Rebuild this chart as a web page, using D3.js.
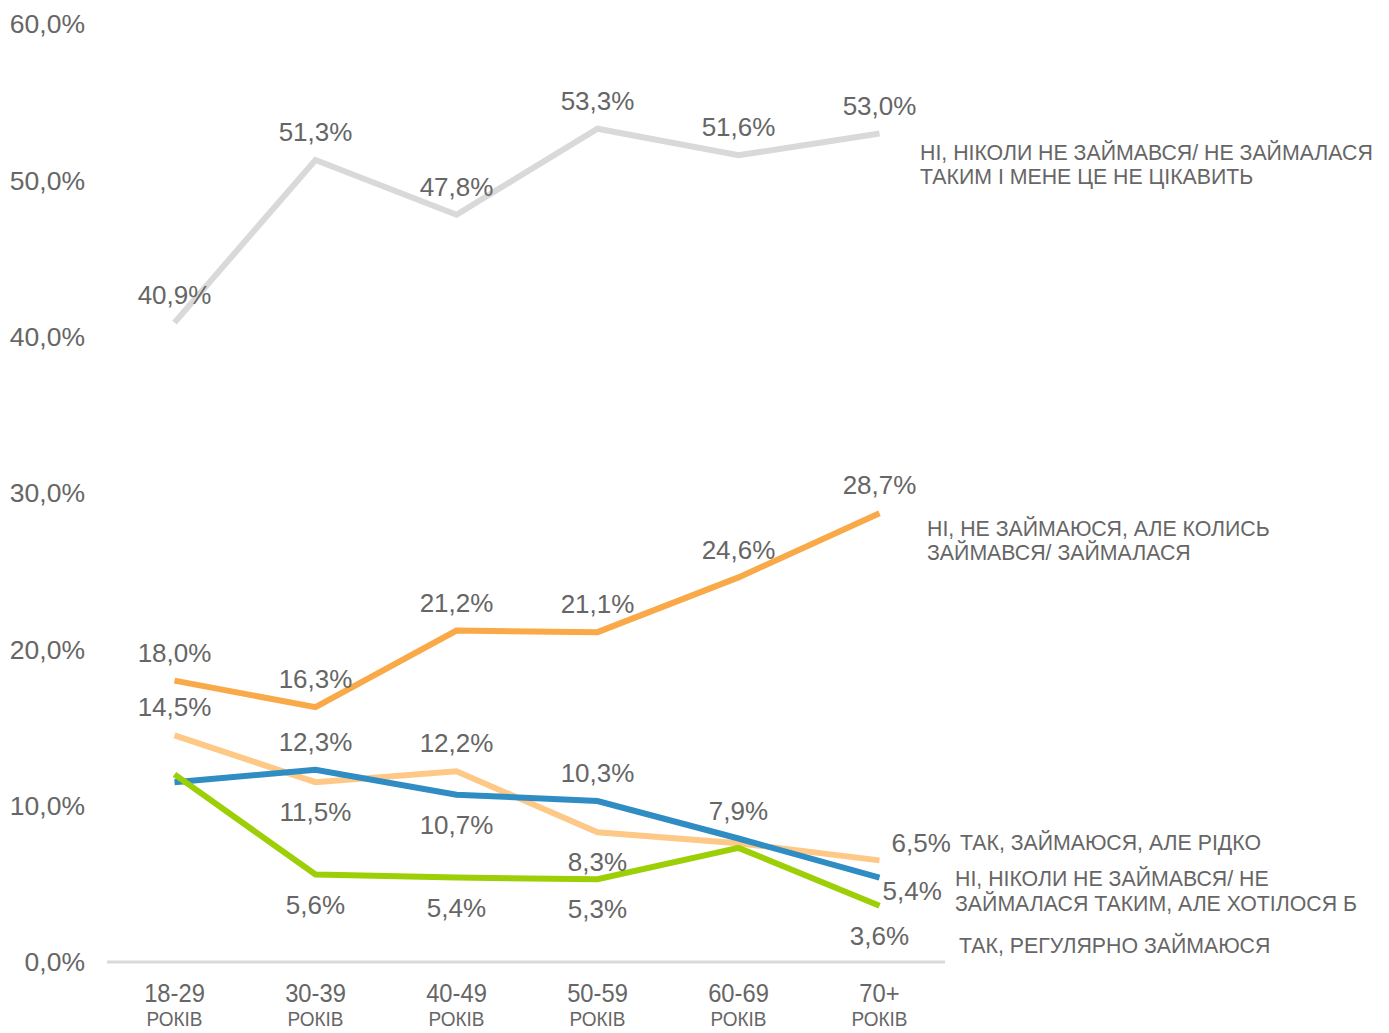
<!DOCTYPE html>
<html>
<head>
<meta charset="utf-8">
<script src="https://cdn.jsdelivr.net/npm/d3@7"></script>
<style>
  body { margin: 0; background: #fff; }
  text { font-family: Arial, "Liberation Sans", sans-serif; fill: #666; }
</style>
</head>
<body>
<script>
// age groups on x
const ageGroups = ["18-29", "30-39", "40-49", "50-59", "60-69", "70+"];
const ageSuffix = "РОКІВ";
const yTicks = [0, 10, 20, 30, 40, 50, 60];

// series values (%)
const neverNotInterested = [40.9, 51.3, 47.8, 53.3, 51.6, 53.0];
const usedTo = [18.0, 16.3, 21.2, 21.1, 24.6, 28.7];
const rarely = [14.5, 11.5, 12.2, 8.3, 7.6, 6.5];
const neverWouldLike = [11.5, 12.3, 10.7, 10.3, 7.9, 5.4];
const regularly = [12.0, 5.6, 5.4, 5.3, 7.3, 3.6];

// where each point's value label goes: t=above, b=below, r=right, br=right-below, n=none
const neverNotInterestedPos = ["t", "t", "t", "t", "t", "t"];
const usedToPos = ["t", "t", "t", "t", "t", "t"];
const rarelyPos = ["t", "b", "t", "b", "n", "r"];
const neverWouldLikePos = ["n", "t", "b", "t", "t", "br"];
const regularlyPos = ["n", "b", "b", "b", "n", "b"];

const seriesNames = [
  ["НІ, НІКОЛИ НЕ ЗАЙМАВСЯ/ НЕ ЗАЙМАЛАСЯ", "ТАКИМ І МЕНЕ ЦЕ НЕ ЦІКАВИТЬ"],
  ["НІ, НЕ ЗАЙМАЮСЯ, АЛЕ КОЛИСЬ", "ЗАЙМАВСЯ/ ЗАЙМАЛАСЯ"],
  ["ТАК, ЗАЙМАЮСЯ, АЛЕ РІДКО"],
  ["НІ, НІКОЛИ НЕ ЗАЙМАВСЯ/ НЕ", "ЗАЙМАЛАСЯ ТАКИМ, АЛЕ ХОТІЛОСЯ Б"],
  ["ТАК, РЕГУЛЯРНО ЗАЙМАЮСЯ"]
];

const series = [
  { name: seriesNames[0], values: neverNotInterested, pos: neverNotInterestedPos, color: "#d9d9d9", lx: 920, ly: 19 },
  { name: seriesNames[1], values: usedTo, pos: usedToPos, color: "#f9a947", lx: 927, ly: 15 },
  { name: seriesNames[2], values: rarely, pos: rarelyPos, color: "#fec987", lx: 960, ly: -18 },
  { name: seriesNames[3], values: neverWouldLike, pos: neverWouldLikePos, color: "#2f8dc4", lx: 955, ly: 1 },
  { name: seriesNames[4], values: regularly, pos: regularlyPos, color: "#9dcf06", lx: 959, ly: 40 }
];

const W = 1389, H = 1033;
const svg = d3.select("body").append("svg").attr("width", W).attr("height", H);

const x = d3.scalePoint().domain(ageGroups).range([104, 950]).padding(0.5);
const y = d3.scaleLinear().domain([0, 60]).range([962, 24]);
const fmt = v => d3.format(".1f")(v).replace(".", ",") + "%";

// y labels
svg.append("g").selectAll("text").data(yTicks).join("text")
  .attr("x", 85).attr("y", d => y(d)).attr("dy", "0.35em")
  .attr("text-anchor", "end").style("font-size", "26.5px")
  .text(d => fmt(d));

// baseline
svg.append("line").attr("x1", 107).attr("x2", 945)
  .attr("y1", y(0)).attr("y2", y(0))
  .attr("stroke", "#d9d9d9").attr("stroke-width", 3);

// category labels (narrow look)
const cats = svg.append("g").selectAll("g").data(ageGroups).join("g")
  .attr("transform", d => `translate(${x(d)},0) scale(0.95,1)`);
cats.append("text").attr("y", 1002)
  .attr("text-anchor", "middle").style("font-size", "25px").text(d => d);
cats.append("text").attr("y", 1026)
  .attr("text-anchor", "middle").style("font-size", "20px").text(ageSuffix);

const line = d3.line().x((d, i) => x(ageGroups[i])).y(d => y(d));

series.forEach(s => {
  svg.append("path").datum(s.values)
    .attr("d", line).attr("fill", "none")
    .attr("stroke", s.color).attr("stroke-width", 6);
});

series.forEach(s => {
  const g = svg.append("g");
  s.values.forEach((v, i) => {
    const p = s.pos[i];
    if (p === "n") return;
    let dx = 0, dy = -28, anchor = "middle";
    if (p === "b") dy = 30;
    if (p === "r") { dx = 12; dy = -17; anchor = "start"; }
    if (p === "br") { dx = 3; dy = 13; anchor = "start"; }
    g.append("text")
      .attr("x", x(ageGroups[i]) + dx).attr("y", y(v) + dy).attr("dy", "0.35em")
      .attr("text-anchor", anchor).style("font-size", "26px")
      .text(fmt(v));
  });
  // series name at right end
  const last = s.values[s.values.length - 1];
  const t = svg.append("text").attr("x", s.lx).attr("y", y(last) + s.ly)
    .style("font-size", "21.3px");
  s.name.forEach((ln, k) => {
    t.append("tspan").attr("x", s.lx).attr("dy", k === 0 ? "0.35em" : "1.15em").text(ln);
  });
});
</script>
</body>
</html>
